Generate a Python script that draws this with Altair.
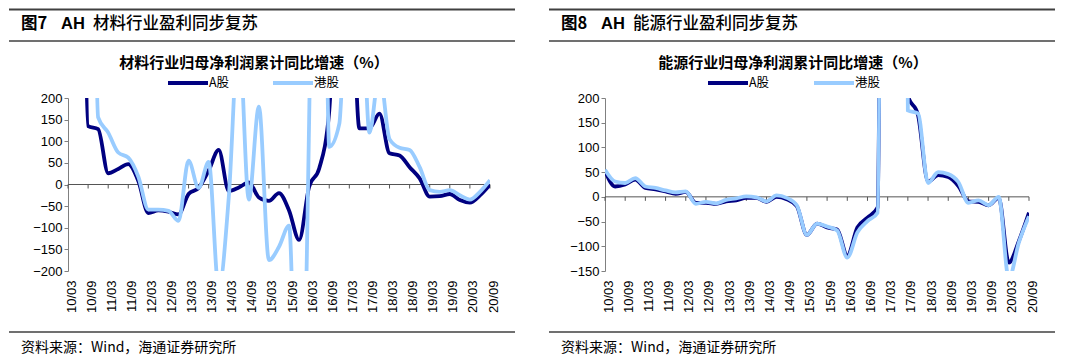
import json
import altair as alt
import pandas as pd

quarters = ["10/03", "10/06", "10/09", "10/12", "11/03", "11/06", "11/09", "11/12",
            "12/03", "12/06", "12/09", "12/12", "13/03", "13/06", "13/09", "13/12",
            "14/03", "14/06", "14/09", "14/12", "15/03", "15/06", "15/09", "15/12",
            "16/03", "16/06", "16/09", "16/12", "17/03", "17/06", "17/09", "17/12",
            "18/03", "18/06", "18/09", "18/12", "19/03", "19/06", "19/09", "19/12",
            "20/03", "20/06", "20/09"]
tick_labels = ["10/03", "10/09", "11/03", "11/09", "12/03", "12/09", "13/03", "13/09",
               "14/03", "14/09", "15/03", "15/09", "16/03", "16/09", "17/03", "17/09",
               "18/03", "18/09", "19/03", "19/09", "20/03", "20/09"]

# 材料行业 (values beyond the axis range are drawn clipped)
mat_a = [1500, 1500, 135, 128, 26, 36, 47, 8, -66, -60, -63, -69, -22, -8, 32, 80,
         -15, -7, 5, -30, -38, -20, -60, -128, -5, 37, 170, 600, 600, 130,
         130, 164, 72, 67, 40, 14, -28, -27, -22, -36, -42, -25, 0]
mat_h = [1500, 1500, 1500, 155, 120, 74, 62, 18, -58, -58, -61, -84, 55, -8, 52, -240,
         -30, 350, -35, 180, -175, -144, -95, -800, 150, 2000, 87, 140, 600, 600,
         120, 260, 105, 85, 80, 40, -13, -17, -13, -25, -35, -17, 10]
# 能源行业
ene_a = [53, 21, 25, 35, 18, 15, 11, 6, 10, -12, -12, -14, -9, -7, -2, -2,
         -10, 0, -5, -19, -77, -54, -62, -66, -119, -62, -42, -22, 3000, 3000,
         205, 166, 31, 44, 40, 22, -9, -10, -17, -2, -133, -89, -32]
ene_h = [55, 31, 28, 38, 21, 18, 13, 9, 11, -14, -10, -13, -6, -3, 1, -1,
         -9, 3, -2, -17, -77, -54, -60, -68, -123, -72, -49, -32, 3000, 3000,
         175, 169, 28, 50, 46, 30, -12, -7, -17, 0, -165, -92, -39]

FONT_CN = "Noto Sans CJK SC"
FONT_EN = "Liberation Sans"
DARK = "#000080"
LIGHT = "#99CCFF"
one = pd.DataFrame({"k": [0]})


def hrule(x1, x2, y, w=1.5, color="#404040", sop=1):
    return alt.Chart(one).mark_rule(color=color, strokeWidth=w, strokeOpacity=sop).encode(
        x=alt.value(x1), x2=alt.value(x2), y=alt.value(y))


def txt(s, x, y, size, weight="normal", align="left", font=FONT_CN):
    return alt.Chart(one).mark_text(
        align=align, baseline="middle", fontSize=size, fontWeight=weight,
        font=font, color="#000000").encode(
        x=alt.value(x), y=alt.value(y), text=alt.value(s))


def panel(a_vals, h_vals, ymin, ymax, W, H, fig_no, head_rest, subtitle,
          deco_left, deco_right, sub_x, fig_x, ah_x, rest_x, leg):
    idx = list(range(len(quarters)))
    df_a = pd.DataFrame({"idx": idx, "quarter": quarters, "value": a_vals})
    df_h = pd.DataFrame({"idx": idx, "quarter": quarters, "value": h_vals})
    tick_idx = [quarters.index(t) for t in tick_labels]
    df_t = pd.DataFrame({"idx": tick_idx, "label": tick_labels})

    xscale = alt.Scale(domain=[0, len(quarters) - 1], nice=False, zero=False)
    yscale = alt.Scale(domain=[ymin, ymax], nice=False, zero=False)
    xaxis = alt.Axis(values=tick_idx, labelExpr=json.dumps(quarters) + "[datum.value]",
                     labelAngle=-90, labelAlign="right", labelBaseline="middle",
                     labelPadding=9, labelOffset=3, ticks=False, domain=False,
                     grid=False, title=None, labelFont=FONT_EN, labelFontSize=13,
                     labelColor="#000000", labelOverlap=False)
    yaxis = alt.Axis(values=list(range(ymin, ymax + 1, 50)), grid=False, title=None,
                     tickSize=4, tickColor="#808080", domainColor="#808080",
                     labelFont=FONT_EN, labelFontSize=13, labelColor="#000000",
                     labelPadding=2)
    x = alt.X("idx:Q", scale=xscale, axis=xaxis)
    y = alt.Y("value:Q", scale=yscale, axis=yaxis)

    zero = alt.Chart(one).mark_rule(color="#555555", strokeWidth=1).encode(
        y=alt.Y(datum=0, scale=yscale, axis=yaxis))
    ticks = alt.Chart(df_t).mark_rule(color="#555555", strokeWidth=1, y2Offset=4).encode(
        x=x, y=alt.Y(datum=0, scale=yscale, axis=yaxis), y2=alt.Y2(datum=0))
    line_a = alt.Chart(df_a).mark_line(interpolate="monotone", strokeWidth=3.8,
                                       color=DARK, clip=True).encode(x=x, y=y)
    line_h = alt.Chart(df_h).mark_line(interpolate="monotone", strokeWidth=3.8,
                                       color=LIGHT, clip=True).encode(x=x, y=y)

    deco = [
        hrule(deco_left, deco_right, -90, 1, "#ffffff", 0),
        hrule(deco_left, deco_right, -88.5, 2, "#404040"),
        hrule(deco_left, deco_right, -57, 1.5),
        hrule(deco_left, deco_right, 234, 1.5),
        txt("图" + fig_no, fig_x, -74, 16.5, "bold"),
        txt("AH", ah_x, -74, 16.5, "bold", font=FONT_EN),
        txt(head_rest, rest_x, -74, 16.5, 500),
        txt(subtitle, sub_x, -35, 15, "bold", align="center"),
        hrule(leg[0], leg[0] + 40, -15, 4, DARK),
        txt("A股", leg[0] + 41, -15, 12.5),
        hrule(leg[1], leg[1] + 40, -15, 4, LIGHT),
        txt("港股", leg[1] + 41, -15, 12.5),
        txt("资料来源：Wind，海通证券研究所", fig_x, 250, 14),
    ]
    return alt.layer(zero, ticks, line_a, line_h, *deco).properties(width=W, height=H)


left = panel(mat_a, mat_h, -200, 200, 422, 173, "7", "材料行业盈利同步复苏",
             "材料行业归母净利润累计同比增速（%）", -59, 447, 186,
             -47, -7, 25, (100, 205))
right = panel(ene_a, ene_h, -150, 200, 424, 173, "8", "能源行业盈利同步复苏",
              "能源行业归母净利润累计同比增速（%）", -56, 450, 188,
              -44, -4, 28, (103, 209))

chart = alt.hconcat(left, right, spacing=115, bounds="flush").properties(
    padding=0
).configure_view(stroke=None)

chart.save("out.html", embed_options={"renderer": "svg", "actions": False})
